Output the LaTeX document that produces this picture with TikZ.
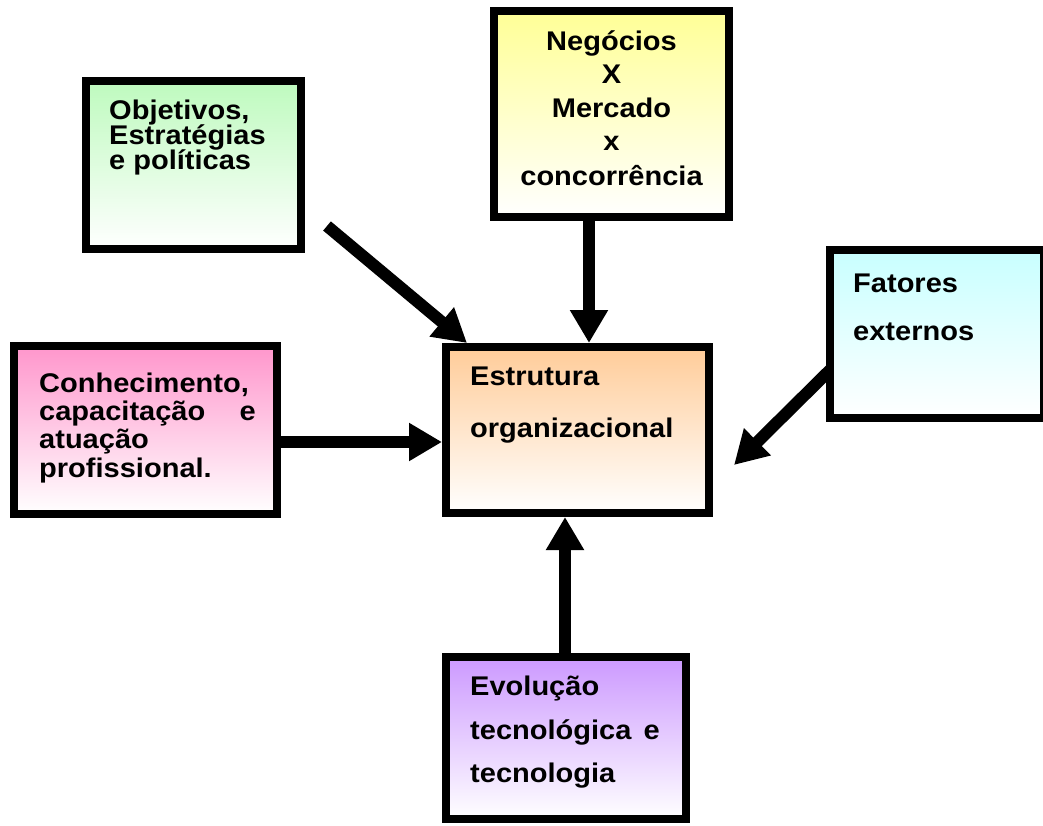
\documentclass[tikz,border=0pt]{standalone}
\usepackage{fontspec}
\setmainfont{Liberation Sans}[FakeStretch=1.075]
\usetikzlibrary{arrows.meta}
\pgfdeclarelayer{bg}
\pgfsetlayers{bg,main}
\definecolor{cgreen}{RGB}{190,250,190}
\definecolor{cyellow}{RGB}{255,255,150}
\definecolor{cpink}{RGB}{255,150,204}
\definecolor{corange}{RGB}{255,204,153}
\definecolor{ccyan}{RGB}{200,255,255}
\definecolor{cpurple}{RGB}{204,153,255}
\begin{document}
\begin{tikzpicture}[x=1pt,y=-1pt,
  box/.style={draw=black,line width=8pt,rectangle,inner sep=0pt},
  lbl/.style={font=\bfseries\fontsize{27}{32}\selectfont,inner sep=0pt,anchor=base west},
  lblc/.style={lbl,anchor=base},
  lble/.style={lbl,anchor=base east},
  arr/.style={line width=12pt,-{Triangle[width=36pt,length=33pt]}}]
\useasboundingbox (0,0) rectangle (1043,825);

% boxes
\node[box,top color=cgreen,bottom color=white,minimum width=215pt,minimum height=168pt] (obj) at (193.5,165) {};
\node[box,top color=cyellow,bottom color=white,minimum width=235pt,minimum height=206pt] (neg) at (611.5,114) {};
\node[box,top color=cpink,bottom color=white,minimum width=263pt,minimum height=168pt] (con) at (145.5,430) {};
\node[box,top color=corange,bottom color=white,minimum width=263pt,minimum height=166pt] (est) at (577.5,430) {};
\node[box,top color=ccyan,bottom color=white,minimum width=214pt,minimum height=168pt] (fat) at (937,334) {};
\node[box,top color=cpurple,bottom color=white,minimum width=240pt,minimum height=162pt] (evo) at (566,738) {};

% labels
\node[lbl] (obj1) at (109,119) {Objetivos,};
\node[lbl] (obj2) at (109,144) {Estratégias};
\node[lbl] (obj3) at (109,169) {e políticas};

\node[lblc] (neg1) at (611.5,50) {Negócios};
\node[lblc] (neg2) at (611.5,83) {X};
\node[lblc] (neg3) at (611.5,117) {Mercado};
\node[lblc] (neg4) at (611.5,150) {x};
\node[lblc] (neg5) at (611.5,185) {concorrência};

\node[lbl] (con1) at (39,392) {Conhecimento,};
\node[lbl] (con2) at (39,420) {capacitação};
\node[lble] (con2e) at (256,420) {e};
\node[lbl] (con3) at (39,448) {atuação};
\node[lbl] (con4) at (39,477) {profissional.};

\node[lbl] (est1) at (470,385) {Estrutura};
\node[lbl] (est2) at (470,437) {organizacional};

\node[lbl] (fat1) at (853,292) {Fatores};
\node[lbl] (fat2) at (853,340) {externos};

\node[lbl] (evo1) at (470,695) {Evolução};
\node[lbl] (evo2) at (470,739) {tecnológica};
\node[lble] (evo2e) at (660,739) {e};
\node[lbl] (evo3) at (470,782) {tecnologia};

% arrows, drawn beneath the boxes
\begin{pgfonlayer}{bg}
\fill[white] (0,0) rectangle (1043,825);
\coordinate (s1) at (327,226);
\coordinate (e5) at (734,465);
\draw[arr] (s1) -- ([xshift=25pt]est.north west);
\draw[arr] ([xshift=-22.5pt]neg.center) -- ([xshift=-22.5pt]neg.south |- est.north);
\draw[arr] ([yshift=-12pt]con.center) -- ([yshift=-12pt]con.east -| est.west);
\draw[arr] ([xshift=-1pt]evo.center) -- ([xshift=-1pt]evo.north |- est.south);
\draw[arr] ([xshift=4pt,yshift=-36pt]fat.west) -- (e5);
\end{pgfonlayer}
\end{tikzpicture}
\end{document}
